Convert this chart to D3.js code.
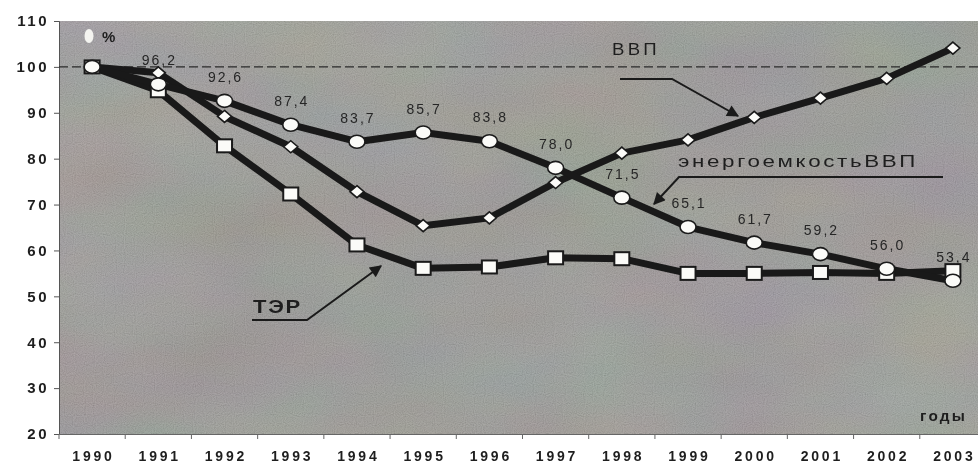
<!DOCTYPE html>
<html>
<head>
<meta charset="utf-8">
<script src="https://cdn.jsdelivr.net/npm/d3@7"></script>
<style>
  html, body { margin: 0; padding: 0; background: #fff; }
  svg { display: block; font-family: "Liberation Sans", Arial, sans-serif; }
</style>
</head>
<body>
<div id="chart"></div>
<script>
var years = [1990, 1991, 1992, 1993, 1994, 1995, 1996, 1997, 1998, 1999, 2000, 2001, 2002, 2003];
var energyIntensity = [100, 96.2, 92.6, 87.4, 83.7, 85.7, 83.8, 78.0, 71.5, 65.1, 61.7, 59.2, 56.0, 53.4];
var gdp = [100, 98.7, 89.2, 82.6, 72.8, 65.4, 67.1, 74.8, 81.2, 84.1, 89.0, 93.2, 97.5, 104.1];
var ter = [100, 94.8, 82.8, 72.3, 61.2, 56.1, 56.4, 58.4, 58.2, 55.0, 55.0, 55.2, 55.0, 55.6];
var yTicks = [20, 30, 40, 50, 60, 70, 80, 90, 100, 110];

var width = 978, height = 466;
var plotLeft = 59, plotTop = 21, plotBottom = 434;

var svg = d3.select("#chart").append("svg")
    .attr("width", width)
    .attr("height", height);

var x = d3.scaleBand().domain(years).range([plotLeft, 986]).padding(0);
var y = d3.scaleLinear().domain([20, 110]).range([plotBottom, plotTop]);
var cx = function(d) { return x(d) + x.bandwidth() / 2; };

var defs = svg.append("defs");

// mottled background texture
var fLow = defs.append("filter").attr("id", "mottle")
    .attr("x", 0).attr("y", 0).attr("width", "100%").attr("height", "100%");
fLow.append("feTurbulence").attr("type", "fractalNoise")
    .attr("baseFrequency", "0.006 0.012").attr("numOctaves", 3).attr("seed", 7);
fLow.append("feColorMatrix").attr("type", "matrix")
    .attr("values", "0.6 0 0 0 0.2  0 0.6 0 0 0.2  0 0 0.6 0 0.2  0 0 0 0 1");

var fGrain = defs.append("filter").attr("id", "grain")
    .attr("x", 0).attr("y", 0).attr("width", "100%").attr("height", "100%");
fGrain.append("feTurbulence").attr("type", "fractalNoise")
    .attr("baseFrequency", 0.9).attr("numOctaves", 1).attr("seed", 3);
fGrain.append("feColorMatrix").attr("type", "saturate").attr("values", 0);
fGrain.append("feComponentTransfer").append("feFuncA").attr("type", "linear").attr("slope", 0).attr("intercept", 1);

var bgGrad = defs.append("linearGradient").attr("id", "bggrad")
    .attr("x1", 0).attr("y1", 0).attr("x2", 1).attr("y2", 1);
bgGrad.append("stop").attr("offset", "0%").attr("stop-color", "#aaaaa4");
bgGrad.append("stop").attr("offset", "50%").attr("stop-color", "#a2a19c");
bgGrad.append("stop").attr("offset", "100%").attr("stop-color", "#a8a7a3");

defs.append("marker").attr("id", "arrow")
    .attr("viewBox", "0 0 10 10").attr("refX", 9).attr("refY", 5)
    .attr("markerWidth", 17).attr("markerHeight", 12)
    .attr("markerUnits", "userSpaceOnUse")
    .attr("orient", "auto")
    .append("path").attr("d", "M0,0 L10,5 L0,10 z").attr("fill", "#1a1a1a");

var plotW = width - plotLeft, plotH = plotBottom - plotTop;
var bg = svg.append("g");
bg.append("rect").attr("x", plotLeft).attr("y", plotTop).attr("width", plotW).attr("height", plotH)
    .attr("fill", "url(#bggrad)");
bg.append("rect").attr("x", plotLeft).attr("y", plotTop).attr("width", plotW).attr("height", plotH)
    .attr("filter", "url(#mottle)").attr("opacity", 0.4).style("mix-blend-mode", "multiply");
bg.append("rect").attr("x", plotLeft).attr("y", plotTop).attr("width", plotW).attr("height", plotH)
    .attr("filter", "url(#grain)").attr("opacity", 0.3);

// axes
var yAxis = d3.axisLeft(y).tickValues(yTicks).tickSize(5).tickPadding(5);
var gy = svg.append("g").attr("transform", "translate(" + plotLeft + ",0)").call(yAxis);
gy.select(".domain").attr("stroke", "#555");
gy.selectAll(".tick line").attr("stroke", "#555");
gy.selectAll("text").attr("fill", "#1e1e1e").attr("font-size", 15).attr("font-weight", "bold")
    .attr("letter-spacing", 2.5);

var xAxis = d3.axisBottom(x).tickSize(0).tickPadding(17);
var gx = svg.append("g").attr("transform", "translate(0," + plotBottom + ")").call(xAxis);
gx.select(".domain").attr("stroke", "#666");
gx.selectAll("text").attr("fill", "#1e1e1e").attr("font-size", 14).attr("font-weight", "bold")
    .attr("letter-spacing", 2.8).attr("dx", 1.4);
gx.selectAll(".bound").data(years).enter().append("line")
    .attr("x1", function(d) { return x(d); }).attr("x2", function(d) { return x(d); })
    .attr("y1", 0).attr("y2", 5).attr("stroke", "#666");

// 100% reference line
svg.append("line")
    .attr("x1", plotLeft).attr("x2", width)
    .attr("y1", y(100)).attr("y2", y(100))
    .attr("stroke", "#2a2a2a").attr("stroke-width", 1.4).attr("stroke-dasharray", "9,4");

var line = d3.line().x(function(d) { return cx(d[0]); }).y(function(d) { return y(d[1]); });
function pairs(vals) { return years.map(function(yr, i) { return [yr, vals[i]]; }); }

[ter, gdp, energyIntensity].forEach(function(vals) {
  svg.append("path").datum(pairs(vals))
    .attr("d", line).attr("fill", "none")
    .attr("stroke", "#191919").attr("stroke-width", 7).attr("stroke-linejoin", "round");
});

// markers
svg.append("g").selectAll("rect").data(pairs(ter)).enter().append("rect")
    .attr("x", function(d) { return cx(d[0]) - 7.5; })
    .attr("y", function(d) { return y(d[1]) - 6.5; })
    .attr("width", 15).attr("height", 13)
    .attr("fill", "#fbfbf8").attr("stroke", "#1a1a1a").attr("stroke-width", 2);

svg.append("g").selectAll("path").data(pairs(gdp)).enter().append("path")
    .attr("d", "M0,-6 L7,0 L0,6 L-7,0 Z")
    .attr("transform", function(d) { return "translate(" + cx(d[0]) + "," + y(d[1]) + ")"; })
    .attr("fill", "#fbfbf8").attr("stroke", "#1a1a1a").attr("stroke-width", 1.6);

svg.append("g").selectAll("ellipse").data(pairs(energyIntensity)).enter().append("ellipse")
    .attr("cx", function(d) { return cx(d[0]); })
    .attr("cy", function(d) { return y(d[1]); })
    .attr("rx", 8).attr("ry", 6.5)
    .attr("fill", "#fbfbf8").attr("stroke", "#1a1a1a").attr("stroke-width", 1.6);

// value labels for energy intensity
svg.append("g").selectAll("text").data(pairs(energyIntensity).slice(1)).enter().append("text")
    .attr("x", function(d) { return cx(d[0]) + 1; })
    .attr("y", function(d) { return y(d[1]) - 19; })
    .attr("text-anchor", "middle")
    .attr("font-size", 14).attr("letter-spacing", 2).attr("fill", "#262626")
    .text(function(d) { return d[1].toFixed(1).replace(".", ","); });

// annotations
var ann = svg.append("g");
ann.append("text").attr("x", 102).attr("y", 42).attr("font-size", 15).attr("font-weight", "bold")
    .attr("fill", "#1e1e1e").text("%");
ann.append("ellipse").attr("cx", 89).attr("cy", 36).attr("rx", 4.5).attr("ry", 7).attr("fill", "#f4f4f0");

ann.append("text").attr("x", 612).attr("y", 55).attr("font-size", 17).attr("letter-spacing", 3)
    .attr("textLength", 48).attr("lengthAdjust", "spacingAndGlyphs")
    .attr("fill", "#1e1e1e").text("ВВП");
ann.append("path").attr("d", "M620,79 L672,79 L738,116")
    .attr("fill", "none").attr("stroke", "#1a1a1a").attr("stroke-width", 2).attr("marker-end", "url(#arrow)");

ann.append("text").attr("x", 678).attr("y", 167).attr("font-size", 17).attr("letter-spacing", 2)
    .attr("textLength", 240).attr("lengthAdjust", "spacingAndGlyphs")
    .attr("fill", "#1e1e1e").text("энергоемкостьВВП");
ann.append("path").attr("d", "M943,177 L679,177 L654,204")
    .attr("fill", "none").attr("stroke", "#1a1a1a").attr("stroke-width", 2).attr("marker-end", "url(#arrow)");

ann.append("text").attr("x", 253).attr("y", 313).attr("font-size", 19).attr("font-weight", "bold")
    .attr("letter-spacing", 1.5)
    .attr("textLength", 49).attr("lengthAdjust", "spacingAndGlyphs")
    .attr("fill", "#1e1e1e").text("ТЭР");
ann.append("path").attr("d", "M252,320 L307,320 L381,266")
    .attr("fill", "none").attr("stroke", "#1a1a1a").attr("stroke-width", 2).attr("marker-end", "url(#arrow)");

ann.append("text").attr("x", 920).attr("y", 421).attr("font-size", 14).attr("font-weight", "bold")
    .attr("letter-spacing", 2)
    .attr("textLength", 47).attr("lengthAdjust", "spacingAndGlyphs")
    .attr("fill", "#1e1e1e").text("годы");
</script>
</body>
</html>
